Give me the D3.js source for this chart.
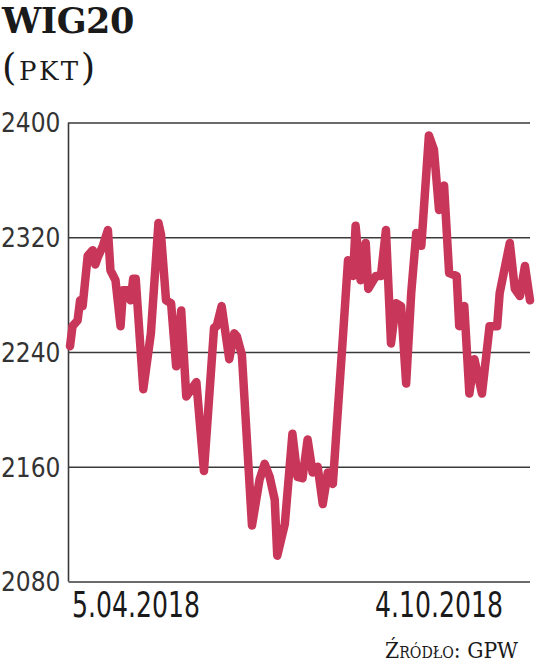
<!DOCTYPE html>
<html>
<head>
<meta charset="utf-8">
<script src="https://cdn.jsdelivr.net/npm/d3@7"></script>
<style>
  html, body { margin: 0; padding: 0; background: #fff; }
  svg { display: block; }
</style>
</head>
<body>
<svg id="chart" width="536" height="664"></svg>
<script>
const title = "WIG20";
const unit = "(pkt)";
const source = "Źródło: GPW";
const startLabel = "5.04.2018";
const endLabel = "4.10.2018";
const yTicks = [2080, 2160, 2240, 2320, 2400];

const dates = [
  "2018-04-05","2018-04-06","2018-04-08","2018-04-09","2018-04-10","2018-04-12","2018-04-14","2018-04-15",
  "2018-04-16","2018-04-18","2018-04-20","2018-04-21","2018-04-23","2018-04-25","2018-04-26","2018-04-28",
  "2018-04-29","2018-04-30","2018-05-01","2018-05-04","2018-05-07","2018-05-10","2018-05-11","2018-05-13",
  "2018-05-15","2018-05-17","2018-05-19","2018-05-21","2018-05-23","2018-05-25","2018-05-28","2018-06-01",
  "2018-06-02","2018-06-04","2018-06-07","2018-06-09","2018-06-10","2018-06-12","2018-06-16","2018-06-19",
  "2018-06-21","2018-06-23","2018-06-25","2018-06-26","2018-06-29","2018-07-02","2018-07-04","2018-07-06",
  "2018-07-08","2018-07-10","2018-07-12","2018-07-14","2018-07-16","2018-07-18","2018-07-20","2018-07-22",
  "2018-07-24","2018-07-26","2018-07-27","2018-07-29","2018-07-31","2018-08-01","2018-08-04","2018-08-06",
  "2018-08-08","2018-08-10","2018-08-12","2018-08-14","2018-08-16","2018-08-18","2018-08-20","2018-08-22",
  "2018-08-25","2018-08-27","2018-08-29","2018-08-31","2018-09-02","2018-09-05","2018-09-06","2018-09-08",
  "2018-09-10","2018-09-12","2018-09-15","2018-09-18","2018-09-21","2018-09-22","2018-09-26","2018-09-28",
  "2018-09-30","2018-10-02","2018-10-04"
];
const values = [
  2244, 2258, 2262, 2276, 2272, 2307, 2311, 2301,
  2306, 2314, 2325, 2297, 2290, 2258, 2283, 2283,
  2276, 2291, 2291, 2214, 2253, 2330, 2322, 2276,
  2274, 2230, 2269, 2209, 2214, 2219, 2157, 2257,
  2258, 2272, 2235, 2253, 2251, 2238, 2119, 2151,
  2162, 2153, 2137, 2098, 2120, 2183, 2153, 2152,
  2179, 2156, 2160, 2134, 2156, 2148, 2200, 2251,
  2304, 2293, 2328, 2290, 2316, 2284, 2293, 2293,
  2325, 2246, 2274, 2272, 2218, 2281, 2323, 2314,
  2391, 2381, 2339, 2356, 2295, 2293, 2258, 2272,
  2211, 2235, 2211, 2258, 2258, 2281, 2316, 2284,
  2279, 2300, 2276
];

const parse = d3.timeParse("%Y-%m-%d");
const data = dates.map((d, i) => ({ date: parse(d), value: values[i] }));

const svg = d3.select("#chart");
const plotLeft = 68.5, plotRight = 530, plotTop = 122.5, plotBottom = 581.5;
const lineLeft = 70, lineRight = 530;

const x = d3.scaleTime()
  .domain([parse(dates[0]), parse(dates[dates.length - 1])])
  .range([lineLeft, lineRight]);
const y = d3.scaleLinear().domain([2080, 2400]).range([plotBottom, plotTop]);

// gridlines
const yAxis = d3.axisLeft(y).tickValues(yTicks).tickSize(-(plotRight - plotLeft)).tickFormat(d => d);
const gAxis = svg.append("g").attr("transform", `translate(${plotLeft},0)`).call(yAxis);
gAxis.select(".domain").remove();
gAxis.selectAll(".tick line").attr("stroke", "#3a3a3a").attr("stroke-width", 1.6);
gAxis.selectAll(".tick text")
  .attr("x", -8)
  .attr("dy", "0.36em")
  .attr("fill", "#333")
  .style("font-family", "'DejaVu Sans Condensed', 'DejaVu Sans', sans-serif")
  .style("font-size", "26px")
  .style("font-weight", "300");

// vertical axis line
svg.append("line")
  .attr("x1", plotLeft).attr("x2", plotLeft)
  .attr("y1", y(2400)).attr("y2", y(2080))
  .attr("stroke", "#3a3a3a").attr("stroke-width", 1.6);

// line
const line = d3.line().x(d => x(d.date)).y(d => y(d.value));
svg.append("path")
  .datum(data)
  .attr("d", line)
  .attr("fill", "none")
  .attr("stroke", "#c8375a")
  .attr("stroke-width", 8.5)
  .attr("stroke-linejoin", "round")
  .attr("stroke-linecap", "round");

// title
svg.append("text")
  .attr("x", 2).attr("y", 33)
  .text(title)
  .attr("fill", "#1a1a1a")
  .style("font-family", "'DejaVu Serif', serif")
  .style("font-weight", "bold")
  .style("font-size", "35px")
  .style("letter-spacing", "-0.5px");

svg.append("text")
  .attr("x", 2).attr("y", 80)
  .text(unit)
  .attr("fill", "#1a1a1a")
  .style("font-family", "'DejaVu Serif', serif")
  .style("font-size", "37px")
  .style("letter-spacing", "2.5px")
  .style("font-variant", "small-caps");

// date labels
const dateFont = "'DejaVu Sans Condensed', 'DejaVu Sans', sans-serif";
svg.append("text")
  .attr("x", 72).attr("y", 617)
  .attr("textLength", 128)
  .attr("lengthAdjust", "spacingAndGlyphs")
  .text(startLabel)
  .attr("fill", "#1a1a1a")
  .style("font-family", dateFont)
  .style("font-size", "35px");

svg.append("text")
  .attr("x", 375).attr("y", 617)
  .attr("textLength", 128)
  .attr("lengthAdjust", "spacingAndGlyphs")
  .text(endLabel)
  .attr("fill", "#1a1a1a")
  .style("font-family", dateFont)
  .style("font-size", "35px");

// source
svg.append("text")
  .attr("x", 385).attr("y", 658)
  .attr("textLength", 133)
  .attr("lengthAdjust", "spacingAndGlyphs")
  .text(source)
  .attr("fill", "#1a1a1a")
  .style("font-family", "'DejaVu Serif', serif")
  .style("font-size", "23px")
  .style("font-variant", "small-caps");
</script>
</body>
</html>
